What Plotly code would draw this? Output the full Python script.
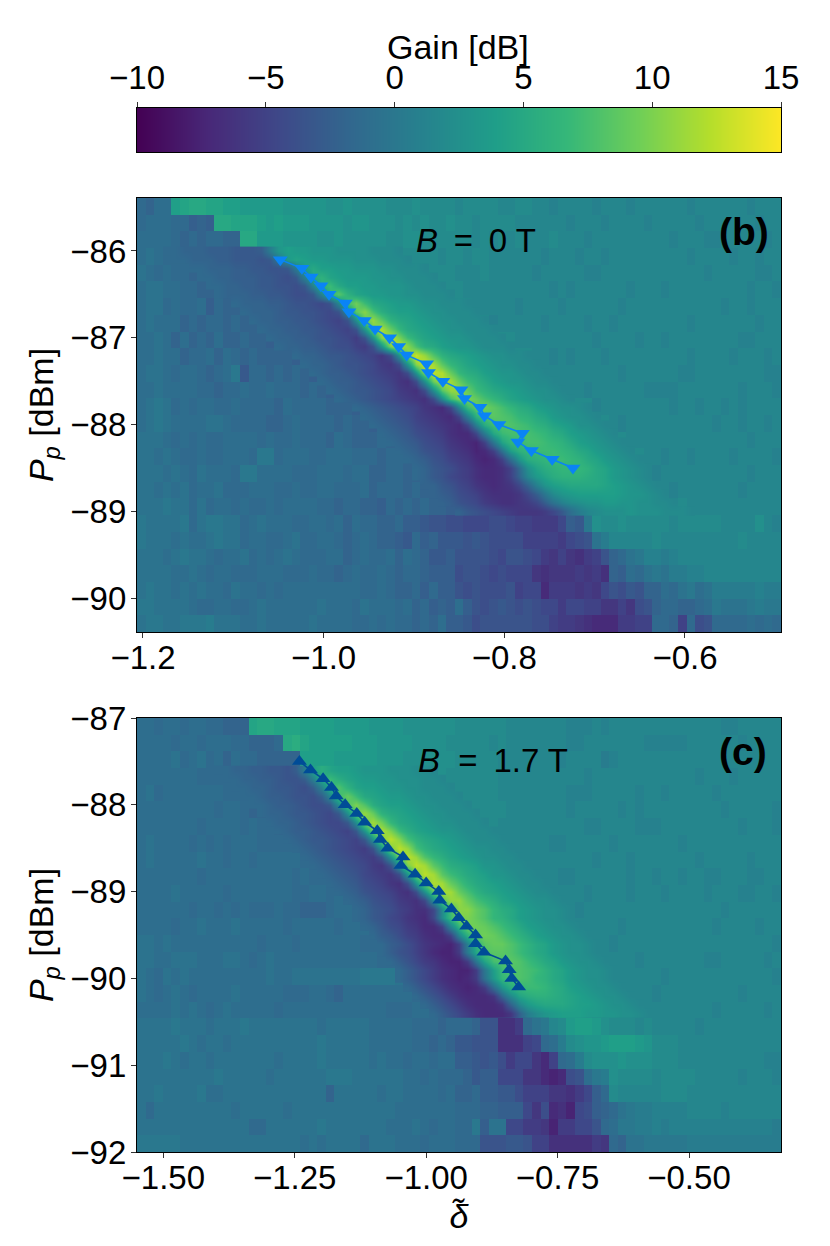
import plotly.graph_objects as go

# all gain grids are in half-dB steps
coarse_b = [
    [-3,-4,-2,-2,8,9,10,10,9,9,8,8,7,7,7, 7,7,6,6,6,6,6,5,5,6,5,5,5,5,4, 4,4,5,4,4,4,4,3,4,4,4,4,3,3,4, 4,3,3,2,3,3,3,3,2,3,3,3,2,3,3, 3,3,3,3,2,3,3,3,3,3,3,2,3,3,3],
    [-3,-2,-2,-2,-3,-3,-5,-4,-5,10,10,9,9,9,8, 7,8,7,7,7,6,6,6,6,5,6,6,5,5,5, 4,5,4,5,4,4,5,4,4,3,4,4,4,4,3, 3,3,3,3,3,2,3,3,3,2,3,3,3,3,2, 3,3,3,3,3,2,3,3,3,3,3,3,2,3,3],
    [-2,-2,-2,-2,-3,-4,-3,-4,-3,-3,-4,-4,10,10,7, 7,7,6,6,6,6,5,5,6,5,5,5,5,5,4, 4,5,5,4,4,4,4,4,4,3,4,3,4,3,4, 3,3,3,4,3,3,3,2,3,3,3,3,3,3,3, 3,3,2,3,3,3,2,2,3,3,3,3,3,2,3],
    [-2,-1,-2,-3,-3,-3,-3,-4,-5,-5,-5,-5,-5,-5,6, 6,6,6,5,6,5,5,5,5,5,5,4,4,4,4, 4,4,4,4,4,3,4,4,3,4,4,3,3,3,3, 3,3,2,3,3,3,2,3,3,2,3,3,3,3,3, 3,3,3,3,2,3,3,3,3,2,3,3,2,3,3],
    [-1,-2,-3,-2,-3,-3,-4,-4,-4,-4,-4,-5,-5,-5,-5, -5,-5,-5,6,6,6,5,5,5,5,5,4,4,4,4, 4,4,4,4,4,4,4,3,3,3,4,3,3,3,3, 3,2,3,3,3,3,3,2,2,3,3,3,3,3,3, 3,3,3,3,3,3,2,3,3,3,3,3,2,2,3],
    [-2,-1,-1,-2,-2,-3,-3,-4,-4,-5,-4,-5,-5,-5,-5, -5,-5,-5,-5,-5,-5,5,6,6,5,5,5,5,4,4, 4,4,4,4,4,4,4,4,3,3,3,3,3,3,3, 3,3,3,2,3,2,3,3,3,3,3,3,2,3,3, 3,2,3,3,3,3,3,3,3,3,3,2,3,3,2],
    [-2,-1,-1,-3,-2,-3,-3,-2,-5,-3,-4,-4,-5,-5,-5, -5,-5,-5,-5,-5,-5,-5,6,7,6,6,5,5,5,4, 4,4,4,4,4,4,4,4,4,3,3,3,3,3,2, 3,3,3,3,2,3,3,3,3,3,3,2,3,3,3, 3,3,3,3,3,3,3,3,2,3,3,2,3,3,3],
    [-2,-1,-2,-2,-2,-4,-3,-4,-3,-3,-4,-3,-4,-4,-5, -5,-5,-5,-5,-5,-5,-5,-5,-5,6,6,6,6,6,6, 5,5,4,4,4,4,4,4,4,4,4,2,3,3,3, 3,3,2,3,3,3,3,2,3,3,2,3,3,3,3, 3,3,3,3,2,3,3,3,3,3,3,3,2,3,3],
    [-2,-2,-1,-2,-4,-2,-4,-3,-4,-2,-4,-4,-3,-4,-4, -5,-5,-5,-5,-5,-5,-5,-5,-5,-5,-5,6,6,6,6, 6,6,5,4,4,4,4,4,4,4,4,4,4,4,3, 3,3,3,3,3,3,3,3,2,3,3,3,3,2,3, 3,2,3,3,3,3,3,3,3,3,2,2,3,3,3],
    [-2,-2,-1,-2,-2,-4,-3,-3,-2,-4,-2,-3,-4,-3,-4, -4,-4,-4,-5,-5,-5,-5,-5,-5,-5,-5,-5,-5,6,6, 6,6,6,5,5,4,4,4,4,4,4,4,4,4,4, 4,3,3,2,3,2,3,3,3,2,3,3,3,3,3, 3,3,3,3,2,3,3,3,3,2,3,3,3,2,3],
    [-2,-1,-1,-2,-3,-2,-2,-3,-4,-3,-2,0,-6,-3,-3, -4,-3,-4,-3,-4,-5,-5,-5,-5,-5,-5,-5,-5,-5,-5, -5,6,6,6,6,6,5,4,4,4,4,4,4,4,4, 4,4,3,3,3,3,3,3,3,3,3,2,3,3,3, 3,3,3,2,2,3,3,3,3,3,3,3,3,2,2],
    [-2,-2,-1,-2,-2,-2,-2,-3,-3,-4,-3,-3,-2,-3,-3, -2,-3,-3,-3,-4,-3,-4,-5,-5,-5,-5,-5,-5,-5,-5, -5,-5,-5,-5,6,6,6,6,6,5,4,4,4,4,4, 4,4,4,4,3,3,3,2,3,3,3,3,3,3,2, 2,2,2,3,3,3,3,3,3,3,2,3,3,3,2],
    [-2,-1,0,-1,-3,-2,-3,-2,-2,-3,-3,-2,-3,-3,-3, -3,-4,-2,-3,-3,-3,-3,-4,-4,-4,-5,-5,-5,-5,-5, -5,-5,-5,-5,-5,-5,-5,6,6,6,6,6,5,4,4, 4,4,4,4,4,4,4,4,2,3,3,3,3,3,3, 3,3,2,3,3,2,3,3,2,3,2,3,3,3,3],
    [-2,-1,0,-1,-2,-2,-2,-2,-1,-1,-2,-3,-3,-3,-3, -4,-4,-3,-2,-3,-3,-3,-3,-4,-3,-4,-4,-5,-5,-5, -5,-5,-5,-5,-5,-5,-5,-5,-5,6,6,6,6,6,5, 4,4,4,4,4,4,4,4,4,4,3,2,3,3,3, 3,3,3,3,3,3,3,2,3,3,2,3,3,2,3],
    [-1,-1,-1,-2,-3,-2,-3,-2,-3,-3,-2,-2,-2,-2,-3, -2,-3,-3,-2,-3,-3,-3,-4,-2,-3,-4,-4,-4,-3,-4, -4,-5,-5,-5,-5,-5,-5,-5,-5,-5,-5,-5,6,6,6, 6,6,5,4,4,4,4,4,4,4,4,4,3,3,3, 3,3,3,3,3,3,3,3,3,3,3,2,3,3,3],
    [-1,-1,-2,-1,-2,-3,-3,-2,-3,-3,-2,-2,-2,-3,0, 0,-3,-2,-2,-2,-3,-3,-2,-2,-2,-3,-3,-3,-4,-3, -3,-4,-5,-5,-5,-5,-5,-5,-5,-5,-5,-5,-5,6,6, 6,6,6,6,5,4,4,4,4,4,4,4,4,4,3, 3,2,3,3,2,3,3,3,3,2,3,3,3,3,2],
    [-1,-1,-1,-2,-1,-2,-3,-1,-2,-2,-2,-3,0,0,-2, -2,-2,-2,-3,-3,-3,-2,-2,-2,-3,-2,-2,-4,-4,-3, -3,-4,-4,-5,-5,-5,-5,-5,-5,-5,-5,-5,-5,-5,-5, 6,6,6,6,6,5,4,4,4,4,4,4,4,4,4, 2,3,3,3,3,3,3,3,3,3,3,2,3,3,3],
    [-1,-1,-2,-1,-2,-1,-3,-2,-2,-1,-3,-3,-3,-2,-2, -2,-3,-3,-2,-3,-3,-2,-2,-3,-3,-3,-2,-4,-3,-3, -3,-4,-3,-4,-5,-5,-5,-5,-5,-5,-5,-5,-5,-5,-5, -5,-5,4,6,6,6,5,4,4,4,4,4,4,4,4, 3,3,2,3,3,3,3,3,3,3,2,3,3,3,3],
    [-1,-1,-1,0,-1,-1,-3,-1,-3,-2,-2,-3,-2,-3,-3, -2,-3,-2,-2,-2,-2,-3,-3,-4,-3,-3,-4,-4,-5,-3, -4,-3,-4,-3,-4,-4,-5,-5,-5,-5,-5,-5,-5,-5,-5, -5,-5,-5,-5,-5,-2,3,5,5,5,4,4,4,4,4, 4,4,3,4,3,3,3,3,3,3,3,3,3,3,3],
    [0,-1,-1,-1,-1,0,-3,-1,0,0,-1,-1,-3,-2,-1, -2,-2,-2,-3,-3,-2,-2,-3,-2,-4,-2,-3,-3,-4,-4, -3,-5,-5,-6,-7,-7,-8,-8,-9,-9,-9,-8,-8,-9,-10, -10,-11,-11,-11,-9,-5,-6,0,5,4,4,5,4,4,4, 4,4,3,4,4,4,4,4,3,3,3,3,5,3,2],
    [0,-1,-1,-1,-2,-1,-2,-2,-1,0,-1,-1,-3,-2,-2, -3,-3,-2,-1,-3,-3,-2,-2,-3,-4,-3,-2,-3,-4,-4, -5,-6,-3,-5,-4,-6,-6,-6,-7,-6,-7,-8,-8,-8,-8, -10,-10,-10,-10,-11,-9,-8,-7,-1,1,3,3,3,3,3, 4,3,3,3,3,3,3,3,3,3,4,3,3,3,3],
    [-1,-1,-1,-2,-1,0,-1,-1,-2,-3,-2,-2,-1,-3,-2, -3,-2,-1,-2,-3,-3,-3,-2,-2,-4,-3,-2,-3,-3,-2, -4,-2,-3,-4,-6,-6,-5,-7,-7,-7,-7,-8,-9,-7,-7, -8,-9,-11,-12,-10,-12,-13,-11,-10,-7,-4,-3,-1,0,2, 2,1,2,3,3,3,3,3,3,3,3,3,3,3,3],
    [-1,-1,-1,-1,-2,-2,-1,-2,-3,-2,-2,-3,-3,-3,-2, -2,-2,-3,-3,-3,-2,-3,-3,-4,-3,-2,-3,-3,-2,-3, -4,-3,-3,-4,-5,-5,-5,-8,-7,-7,-8,-9,-8,-9,-9, -9,-12,-13,-12,-12,-12,-11,-12,-11,-13,-4,-5,-2,-3,-1, 0,-1,1,1,2,2,3,3,3,3,3,3,3,3,3],
    [-1,0,-1,-1,-2,-1,-2,-1,-2,-2,-3,-1,-2,-2,-3, -2,-3,-2,-2,-2,-2,-2,-2,-2,-2,-2,-3,-3,-2,-3, -4,-4,-3,-5,-3,-5,-5,-7,-8,-7,-8,-8,-8,-7,-10, -9,-9,-14,-11,-11,-11,-12,-11,-12,-9,-7,-8,-6,-7,-4, -4,-2,-3,-1,0,-2,-1,1,1,1,1,1,2,1,1],
    [0,0,-1,-1,-1,-1,-2,-3,-3,-2,-2,-3,-3,-2,-1, -2,-2,-2,-2,-2,-2,-1,-2,-2,-2,-3,-1,-2,-2,-2, -3,-2,-4,-3,-5,-4,-5,-2,-5,-7,-8,-7,-6,-7,-8, -7,-8,-9,-9,-11,-9,-9,-10,-10,-12,-12,-10,-12,-8,-7, -4,-3,-3,-4,-4,-3,-2,0,-1,-1,-1,0,1,0,0],
    [-1,0,0,-1,-1,0,0,0,1,-1,-1,-1,-2,-2,-1, -2,-2,-2,-2,-2,-1,-2,-2,-2,-2,-3,-3,-2,-3,-2, -3,-3,-4,-3,-4,-2,-5,-5,-6,-8,-7,-7,-7,-7,-7, -7,-8,-8,-10,-11,-11,-12,-13,-14,-14,-14,-11,-11,-10,-10, -3,-3,-4,-10,-3,-8,-7,-3,-3,-3,-3,-2,-3,-2,-3],
]

fine_start_b = [3,4,6,7,8,9,11,12,13,14,15,16,18,19,20,21,22,23,25,26,27,28,29,30,31,32,32,33,34,35,37]
fine_b = [
    [-3,-3,-4,-4,-4,-5,-5,-5,-6,-6,-6,-5,1,6,8,7,7,6,6,6,5,5,5,5,4,4,4,3],
    [-3,-3,-4,-4,-4,-5,-5,-6,-6,-6,-7,-6,0,7,9,8,7,7,6,6,6,5,5,5,4,4,4,3],
    [-3,-3,-4,-4,-4,-5,-5,-6,-6,-7,-7,-6,1,8,10,8,8,7,7,6,6,6,5,5,4,4,4,3],
    [-3,-3,-4,-4,-5,-5,-5,-6,-6,-7,-8,-6,2,10,12,9,8,7,7,7,6,6,5,5,4,4,4,3],
    [-3,-3,-4,-4,-5,-5,-6,-6,-7,-7,-8,-6,3,12,14,10,8,8,7,7,6,6,6,5,4,4,4,3],
    [-3,-4,-4,-4,-5,-5,-6,-6,-7,-8,-8,-6,3,13,17,12,9,8,7,7,6,6,5,5,4,4,4,3],
    [-3,-4,-4,-4,-5,-5,-6,-7,-7,-8,-9,-7,3,15,19,14,10,9,8,7,7,6,5,5,4,4,4,3],
    [-3,-4,-4,-4,-5,-6,-6,-7,-7,-8,-9,-7,4,17,21,15,11,9,8,8,7,6,5,5,4,4,4,3],
    [-3,-4,-4,-5,-5,-6,-6,-7,-8,-9,-10,-7,5,18,22,17,12,10,9,8,7,6,5,5,4,4,4,3],
    [-3,-4,-4,-5,-5,-6,-6,-7,-8,-9,-10,-7,6,20,24,18,13,10,9,8,7,6,5,5,4,4,4,3],
    [-3,-4,-4,-5,-5,-6,-7,-7,-8,-9,-11,-7,6,21,25,20,14,11,9,8,7,6,6,5,4,4,4,3],
    [-3,-4,-4,-5,-5,-6,-7,-8,-8,-10,-11,-7,6,21,25,21,15,11,10,8,7,6,6,5,4,4,4,3],
    [-3,-4,-4,-5,-6,-6,-7,-8,-9,-10,-12,-8,6,21,26,22,16,12,10,9,8,7,6,5,5,4,4,3],
    [-3,-4,-4,-5,-6,-7,-7,-8,-9,-11,-12,-8,6,21,26,23,17,13,11,9,8,7,6,5,5,4,4,3],
    [-3,-4,-5,-5,-6,-7,-8,-9,-10,-11,-12,-8,6,21,25,24,18,13,11,10,8,7,6,6,5,4,4,3],
    [-3,-4,-5,-5,-6,-7,-8,-9,-10,-12,-13,-8,5,19,24,23,18,14,12,10,8,7,6,6,5,4,4,3],
    [-3,-4,-5,-6,-6,-7,-8,-9,-11,-12,-13,-8,5,17,22,22,18,14,12,10,9,8,7,6,5,5,4,3],
    [-3,-4,-5,-6,-7,-8,-9,-10,-11,-12,-13,-8,4,15,20,20,18,15,13,11,9,8,7,6,5,5,4,3],
    [-3,-4,-5,-6,-7,-8,-9,-10,-12,-13,-14,-9,3,14,18,19,17,15,13,11,10,8,7,6,5,5,4,3],
    [-3,-4,-5,-6,-7,-8,-10,-11,-12,-13,-14,-9,2,12,16,17,16,15,13,12,10,9,7,6,5,5,4,3],
    [-3,-4,-5,-6,-7,-9,-10,-11,-12,-13,-14,-9,2,11,15,16,16,15,14,12,11,9,8,7,5,5,4,3],
    [-3,-4,-5,-6,-8,-9,-10,-11,-13,-14,-14,-9,1,10,14,15,15,15,14,13,11,10,8,7,6,5,4,3],
    [-3,-4,-5,-6,-8,-9,-10,-12,-13,-14,-15,-10,0,9,13,14,15,15,14,13,12,10,8,7,6,5,4,3],
    [-3,-4,-5,-7,-8,-9,-11,-12,-13,-15,-14,-10,-1,8,12,13,14,14,14,13,12,10,9,7,6,5,4,3],
    [-3,-4,-5,-7,-8,-10,-11,-12,-14,-15,-14,-10,-2,6,11,12,13,14,14,13,12,10,9,7,6,5,4,3],
    [-3,-4,-6,-7,-8,-10,-11,-13,-14,-14,-13,-10,-3,5,9,11,12,13,13,13,12,10,9,7,6,5,4,3],
    [-3,-4,-6,-7,-9,-10,-11,-13,-14,-14,-13,-10,-4,3,7,9,11,12,12,12,11,10,9,7,6,5,4,3],
    [-4,-4,-6,-7,-9,-10,-12,-13,-14,-13,-12,-9,-4,2,6,8,9,10,10,10,10,9,8,7,6,5,4,3],
    [-4,-5,-6,-8,-9,-10,-12,-13,-13,-13,-12,-9,-5,0,4,6,7,8,8,8,8,8,7,6,6,5,4,3],
    [-4,-5,-7,-8,-9,-11,-12,-13,-13,-12,-11,-9,-5,-1,2,4,5,6,6,7,7,6,6,5,5,4,4,3],
    [-4,-6,-7,-8,-9,-10,-11,-12,-12,-12,-11,-9,-6,-2,1,3,4,5,5,5,6,5,5,5,4,4,4,3],
]

coarse_c = [
    [-2,-2,-3,-2,-2,-3,-2,-2,-3,-3,-4,-4,-4,9,10,10,9,9,9,8,8,8,8,7,7,7,7,6,6,6, 6,5,5,5,5,5,5,4,4,4,4,4,4,3,3, 3,3,3,3,3,2,2,2,3,2,3,3,3,3,3, 3,3,3,3,3,3,3,3,2,2,3,3,3,3,3],
    [-2,-2,-2,-2,-3,-2,-2,-3,-2,-2,-2,-3,-3,-4,-4,-4,-3,10,11,9,8,8,8,8,8,7,7,7,6,6, 6,6,5,5,5,5,4,4,4,4,4,3,4,3,3, 3,3,3,3,3,2,2,3,3,3,3,3,3,3,2, 2,2,2,2,3,3,3,3,3,3,2,3,3,3,3],
    [-2,-2,-2,-2,-1,-3,-2,-1,-3,-2,-4,-2,-3,-3,-4,-4,-4,-4,-4,8,8,8,8,7,7,7,7,7,6,6, 6,5,5,5,5,5,5,4,4,4,4,4,3,3,3, 3,3,3,3,2,3,3,3,3,1,2,3,3,3,3, 3,3,3,3,3,3,3,3,3,3,3,3,3,3,3],
    [-2,-2,-2,-2,-2,-2,-2,-3,-3,-3,-3,-4,-4,-4,-5,-5,-5,-5,-5,-5,-5,-5,7,7,7,7,7,7,6,6, 6,6,5,5,5,5,4,4,4,4,4,4,3,3,3, 3,3,3,3,3,3,3,2,3,3,3,3,3,3,3, 3,3,3,3,3,2,3,3,3,2,3,3,3,3,3],
    [-2,-1,-3,-2,-2,-2,-2,-2,-2,-2,-3,-3,-3,-4,-5,-5,-5,-5,-5,-5,-5,-5,-5,-5,-5,7,7,7,6,6, 6,6,5,5,5,5,4,4,4,4,4,4,3,3,3, 3,3,3,3,3,2,2,2,3,3,3,3,3,2,3, 3,2,3,3,3,3,3,2,3,3,3,3,3,3,3],
    [-2,-2,-2,-2,-2,-2,-2,-2,-2,-3,-2,-2,-3,-4,-5,-5,-5,-5,-5,-5,-5,-5,-5,-5,-5,-5,-5,6,6,6, 6,6,6,5,5,5,4,4,4,4,4,4,4,3,3, 3,3,3,3,3,2,3,3,3,3,3,2,3,2,3, 3,3,3,3,3,3,3,3,2,3,3,3,3,3,2],
    [-2,-2,-2,-2,-2,-2,-2,-3,-2,-2,-2,-2,-3,-2,-3,-3,-5,-5,-5,-5,-5,-5,-5,-5,-5,-5,-5,-5,-5,6, 6,6,6,6,6,5,5,4,4,4,4,4,3,3,3, 3,3,3,3,3,3,3,2,2,3,3,3,3,2,2, 2,3,3,3,3,3,3,3,3,3,2,3,3,3,2],
    [-2,-1,-2,-2,-2,-2,-3,-2,-3,-2,-3,-2,-2,-2,-3,-3,-3,-3,-4,-5,-5,-5,-5,-5,-5,-5,-5,-5,-5,-5, -5,-5,6,6,6,6,6,5,5,4,4,4,4,3,3, 3,3,3,2,2,3,3,3,3,3,2,3,3,3,3, 3,3,3,2,3,3,3,3,3,3,3,3,3,3,3],
    [-2,-1,-2,-2,-2,-2,-2,-1,-2,-2,-3,-2,-2,-3,-2,-2,-2,-2,-2,-3,-3,-4,-5,-5,-5,-5,-5,-5,-5,-5, -5,-5,-5,-5,6,6,6,6,6,5,5,4,4,3,3, 3,3,3,3,3,3,3,3,2,3,3,3,2,3,3, 3,3,3,3,3,2,3,3,3,3,3,2,3,3,3],
    [-2,-2,-2,-2,-2,-2,-2,-3,-2,-2,-2,-2,-2,-2,-2,-2,-2,-2,-3,-2,-3,-3,-3,-5,-5,-5,-5,-5,-5,-5, -5,-5,-5,-5,-5,-5,6,6,6,6,6,5,5,4,4, 4,3,3,3,2,2,3,3,3,3,3,3,2,3,3, 2,3,3,2,3,3,2,2,3,3,3,2,2,3,3],
    [-2,-2,-2,-2,-1,-2,-2,-2,-2,-2,-3,-2,-2,-2,-2,-2,-2,-2,-3,-3,-2,-2,-3,-2,-3,-4,-5,-5,-5,-5, -5,-5,-5,-5,-5,-5,-5,-5,6,6,6,6,6,5,5, 4,4,3,3,3,3,3,2,3,3,3,3,2,3,3, 3,2,3,3,3,3,2,3,3,3,2,2,3,3,2],
    [-2,-2,-2,-2,-2,-2,-3,-2,-2,-3,-2,-3,-2,-3,-3,-3,-2,-3,-3,-4,-4,-4,-3,-2,-2,-3,-3,-4,-5,-5, -5,-5,-5,-5,-5,-5,-5,-5,-5,-5,6,6,6,6,5, 5,4,4,3,3,3,2,3,3,3,3,3,3,3,3, 3,3,3,3,3,3,3,3,2,3,3,3,3,3,3],
    [-2,-2,-2,-2,-3,-2,-2,-1,-2,-2,-2,-1,-2,-2,-2,-2,-2,-3,-2,-2,-2,-2,-2,-3,-2,-2,-2,-3,-4,-4, -5,-5,-5,-5,-5,-5,-5,-5,-5,-5,-5,6,6,6,6, 6,5,5,4,3,3,3,3,3,3,3,2,3,3,3, 3,3,3,3,3,3,3,2,3,3,3,3,2,3,3],
    [-1,-1,-2,-1,-2,-2,-2,-2,-2,-2,-2,-2,-2,-2,-3,-2,-2,-2,-3,-2,-2,-2,-2,-2,-2,-2,-3,-3,-3,-4, -4,-4,-5,-5,-5,-5,-5,-5,-5,-5,-5,-5,6,6,6, 6,6,6,5,4,3,3,3,3,3,2,3,3,3,3, 3,3,3,3,3,3,3,3,3,3,3,3,3,3,2],
    [-1,-1,-2,-2,-1,-1,-1,-2,-2,-2,-1,-1,-2,-3,-2,-1,-2,-2,-2,-2,-2,-2,-2,-2,-2,-2,-2,-2,-3,-3, -3,-4,-4,-5,-5,-5,-5,-5,-5,-5,-5,-5,-5,-5,6, 6,6,6,6,5,4,3,3,3,3,3,3,3,2,3, 3,3,3,3,3,3,2,2,3,3,3,3,3,2,3],
    [-1,-2,-3,-1,-2,-1,-2,-2,-2,-2,-2,-2,-2,-2,-2,-1,-2,-2,-1,-1,-1,-1,-1,-1,-1,-1,0,0,0,0, -1,-1,-2,-3,-4,-5,-5,-5,-5,-5,-5,-5,-5,-5,-5, -5,6,6,6,6,5,4,3,3,3,3,3,3,3,3, 3,2,3,3,3,3,3,3,3,3,3,3,3,3,2],
    [-1,-2,-3,-2,-1,-2,-3,-2,-2,-2,-2,-1,-2,-2,-2,-2,-2,-3,-3,-3,-2,-2,-3,-4,-2,-2,-2,-2,-2,-2, -2,-2,-3,-2,-3,-3,-4,-5,-5,-5,-5,-5,-5,-5,-5, -5,-5,6,6,6,6,5,4,3,3,3,3,3,3,3, 2,3,3,3,3,3,3,3,3,3,2,3,3,3,3],
    [-2,-2,-2,-2,-1,-2,-1,-2,-3,-2,-1,-2,-2,-2,-2,-2,-3,-2,-2,-2,-2,-2,-2,-2,-2,-2,-2,-2,-2,-3, -3,-3,-2,-2,-2,-2,-2,-3,-3,-4,-5,-5,-5,-5,-5, -5,-5,-5,5,6,6,5,4,3,3,3,3,3,3,3, 3,3,3,3,3,3,3,2,3,3,3,3,3,2,3],
    [-1,-1,-1,-1,0,-1,-1,-1,-2,-1,-1,-1,0,-1,-1,-1,-1,-1,-1,-1,-1,-2,-1,-1,-1,-1,-1,-2,-2,-2, -2,-2,-3,-3,-3,-4,-3,-3,-3,-4,-7,-7,-13,-13,-11, -3,-1,0,3,4,7,8,8,7,5,4,4,4,3,4, 3,3,3,3,3,2,3,3,3,3,3,3,3,3,3],
    [-1,-1,-1,-1,-1,0,-1,-2,-1,-1,-2,-1,-1,-1,-1,-1,-1,-1,-1,-1,-1,0,-1,-1,-1,-1,-1,-2,-2,-2, -2,-2,-3,-3,-4,-3,-4,-6,-6,-7,-7,-7,-13,-13,-13, -10,-9,-3,-2,1,4,5,6,6,7,8,8,8,7,6, 4,4,4,3,3,3,3,3,3,3,3,3,3,3,3],
    [-1,-1,-1,0,-1,-2,-1,-1,-2,-1,-1,-1,-1,-1,-1,-1,-2,-1,-1,-1,-1,0,-1,-1,-1,-1,-1,-2,-1,-2, -2,-3,-2,-2,-3,-2,-2,-5,-5,-6,-7,-6,-8,-11,-9, -9,-12,-14,-10,-3,-2,1,4,5,5,5,6,5,5,5, 4,4,4,3,3,3,3,3,3,3,3,3,3,2,2],
    [-1,-1,-1,-1,-1,-1,-1,-1,-1,0,-1,-1,-1,-1,-1,-2,-1,-1,-1,-1,-1,-1,0,0,0,-1,-1,-1,-1,-1, -1,-2,-2,-3,-2,-3,-3,-3,-4,-6,-5,-5,-9,-9,-9, -12,-12,-14,-15,-14,-8,-7,-2,0,1,5,4,4,4,4, 3,4,4,4,4,3,3,3,3,3,2,3,3,3,2],
    [-1,-1,0,-1,-1,-1,-1,0,-2,-2,-1,-1,-1,-1,-1,-1,-1,-1,-1,-1,-1,-1,-4,-1,-1,-1,-1,-1,-2,-1, -1,-2,-2,-2,-2,-3,-2,-4,-4,-3,-5,-5,-6,-6,-8, -10,-10,-10,-12,-12,-13,-11,-9,-5,-3,4,3,3,3,3, 3,4,4,4,3,3,3,3,3,3,3,3,3,3,3],
    [-1,-3,-1,-1,-1,-1,-1,-1,-1,-1,-1,-2,-1,-1,-1,-1,-1,-2,-1,-1,-1,-1,-1,-1,-1,-1,-1,-1,-1,-1, -2,-2,-2,-2,-2,-2,-2,-3,-3,-3,-4,-4,-5,-5,-5, -9,-12,-8,-14,-13,-15,-9,-8,-5,-4,-3,-1,0,1,1, 2,2,2,2,3,3,3,3,2,3,3,3,3,3,3],
    [-1,-1,-1,-1,-1,-1,-1,-1,-1,-1,-1,-1,-1,-3,-3,-1,-1,-1,-1,-1,-1,0,-1,-1,-1,-1,-1,-1,-1,-2, -2,-2,-1,-2,-3,-2,-2,-3,-3,0,-5,-1,-1,-9,-9, -11,-11,-12,-15,-11,-11,-9,-9,-7,-3,-2,0,0,1,1, 2,1,2,2,2,2,2,2,2,2,2,2,2,2,1],
    [0,0,0,0,0,-1,-1,-1,-1,-1,-1,-1,-1,-1,-1,-1,-1,-1,-1,-2,-1,-2,-1,-1,-1,-1,-3,-1,-1,-1, -2,-2,-2,-3,-2,-2,-2,-3,-3,-3,-7,-7,-7,-6,-6, -7,-10,-10,-13,-13,-13,-13,-13,-11,-12,-3,-4,-1,-1,0, 0,0,0,0,1,1,1,1,1,1,1,1,1,1,1],
]

fine_start_c = [9,10,11,12,13,14,15,16,17,18,19,20,21,22,23,24,25,25,26,27,28,28,29,30,30,31,32,33,34]
fine_c = [
    [-3,-3,-4,-4,-5,-5,-6,-6,-7,-5,1,8,11,9,8,8,7,6,6,6,5,5,5,4,4,3],
    [-3,-3,-4,-4,-5,-5,-6,-7,-7,-5,2,10,14,11,9,8,7,7,6,6,5,5,5,4,4,3],
    [-3,-3,-4,-4,-5,-6,-6,-7,-8,-5,2,12,16,12,9,8,8,7,6,6,5,5,4,4,4,3],
    [-3,-3,-4,-5,-5,-6,-7,-7,-8,-5,3,14,18,14,10,9,8,7,7,6,5,5,4,4,4,3],
    [-3,-3,-4,-5,-5,-6,-7,-8,-8,-6,4,16,20,16,11,9,8,8,7,6,5,5,4,4,4,3],
    [-3,-4,-4,-5,-6,-6,-7,-8,-9,-6,5,18,22,18,12,10,9,8,7,6,5,5,4,4,4,3],
    [-3,-4,-4,-5,-6,-7,-8,-9,-9,-6,5,19,23,19,13,10,9,8,7,6,5,5,4,4,4,3],
    [-3,-4,-5,-5,-6,-7,-8,-9,-10,-6,6,20,24,20,14,11,9,8,7,6,6,5,4,4,4,3],
    [-3,-4,-5,-6,-6,-7,-8,-9,-10,-6,6,20,25,21,15,12,10,9,8,7,6,5,4,4,4,3],
    [-3,-4,-5,-6,-7,-8,-9,-10,-11,-7,6,20,25,22,15,12,10,9,8,7,6,5,5,4,4,3],
    [-3,-4,-5,-6,-7,-8,-9,-10,-11,-7,6,20,25,22,16,13,11,9,8,7,6,5,5,4,4,3],
    [-3,-4,-5,-6,-7,-8,-9,-11,-12,-7,6,20,25,23,17,14,11,10,9,8,6,6,5,4,4,3],
    [-3,-4,-5,-6,-7,-9,-10,-11,-12,-8,6,19,25,23,17,14,12,10,9,8,6,6,5,4,4,3],
    [-3,-4,-5,-6,-8,-9,-10,-12,-13,-8,6,18,24,23,18,15,12,10,9,8,7,6,5,4,4,3],
    [-3,-4,-5,-7,-8,-9,-10,-12,-13,-8,5,18,23,23,18,15,12,10,9,8,7,6,5,4,4,3],
    [-3,-4,-5,-7,-8,-9,-11,-12,-13,-9,5,17,22,22,18,15,13,11,9,8,7,6,5,5,4,3],
    [-3,-4,-6,-7,-8,-10,-11,-13,-13,-9,4,15,21,21,18,16,13,11,10,8,7,6,5,5,4,3],
    [-3,-4,-6,-7,-9,-10,-12,-13,-14,-9,4,14,20,20,18,16,13,12,10,8,7,6,5,5,4,3],
    [-3,-4,-6,-8,-9,-11,-12,-14,-14,-10,3,13,19,19,18,16,14,12,10,8,7,6,5,5,4,3],
    [-3,-5,-6,-8,-10,-11,-13,-14,-14,-10,3,12,18,19,18,16,14,12,10,8,7,6,5,5,4,3],
    [-3,-5,-6,-8,-10,-12,-13,-14,-15,-10,2,11,17,18,18,16,14,12,10,9,7,6,5,5,4,3],
    [-3,-5,-7,-8,-10,-12,-14,-15,-15,-11,1,10,16,17,17,16,14,12,10,9,7,6,5,5,4,3],
    [-3,-5,-7,-9,-11,-12,-14,-15,-15,-11,0,9,15,16,17,16,14,12,10,9,7,6,5,5,4,3],
    [-3,-5,-7,-9,-11,-13,-14,-15,-15,-11,0,8,14,16,16,15,14,12,10,9,7,6,5,5,4,3],
    [-3,-5,-7,-9,-11,-13,-14,-15,-14,-11,-1,7,13,15,16,15,13,12,10,9,7,6,5,5,4,3],
    [-3,-5,-7,-9,-11,-13,-14,-15,-14,-11,-2,6,11,13,14,14,13,11,10,8,7,6,5,5,4,3],
    [-3,-5,-7,-9,-11,-13,-14,-14,-14,-12,-3,4,9,11,12,12,11,10,9,8,7,6,5,5,4,3],
    [-3,-5,-7,-9,-11,-13,-14,-14,-14,-12,-4,3,7,9,10,10,10,9,8,8,7,6,5,5,4,3],
    [-3,-5,-7,-9,-11,-13,-14,-14,-14,-12,-5,1,4,6,7,8,8,8,7,7,6,6,5,5,4,3],
]

# peak positions traced by the markers
peak_b_x = [-1.048,-1.024,-1.014,-1.003,-0.994,-0.976,-0.972,-0.955,-0.943,-0.927,-0.917,-0.908,-0.886,-0.884,-0.868,-0.848,-0.844,-0.827,-0.822,-0.806,-0.780,-0.785,-0.770,-0.747,-0.724]
peak_b_y = [-86.1,-86.2,-86.3,-86.4,-86.5,-86.6,-86.7,-86.8,-86.9,-87.0,-87.1,-87.2,-87.3,-87.4,-87.5,-87.6,-87.7,-87.8,-87.9,-88.0,-88.1,-88.2,-88.3,-88.4,-88.5]
peak_c_x = [-1.241,-1.220,-1.196,-1.180,-1.171,-1.154,-1.132,-1.117,-1.093,-1.087,-1.073,-1.044,-1.048,-1.021,-1.000,-0.976,-0.974,-0.952,-0.938,-0.923,-0.906,-0.906,-0.890,-0.849,-0.842,-0.837,-0.824]
peak_c_y = [-87.5,-87.6,-87.7,-87.8,-87.9,-88.0,-88.1,-88.2,-88.3,-88.4,-88.5,-88.6,-88.7,-88.8,-88.9,-89.0,-89.1,-89.2,-89.3,-89.4,-89.5,-89.6,-89.7,-89.8,-89.9,-90.0,-90.1]

gain_levels = [-10,-9.5,-9,-8.5,-8,-7.5,-7,-6.5,-6,-5.5,-5,-4.5,-4,-3.5,-3,-2.5,-2,-1.5,-1,-0.5,0,0.5,1,1.5,2,2.5,3,3.5,4,4.5,5,5.5,6,6.5,7,7.5,8,8.5,9,9.5,10,10.5,11,11.5,12,12.5,13,13.5,14,14.5,15]

ticks_x_b = [-1.2, -1.0, -0.8, -0.6]
ticks_y_b = [-86, -87, -88, -89, -90]
ticks_x_c = [-1.5, -1.25, -1.0, -0.75, -0.5]
ticks_y_c = [-87, -88, -89, -90, -91, -92]
ticks_gain = [-10, -5, 0, 5, 10, 15]

W, H = 830, 1246
FONT = "Liberation Sans"
TICK_SIZE = 33
RANGE_B = ([-1.2066, -0.4937], [-90.39, -85.39])
RANGE_C = ([-1.55, -0.325], [-92.0, -87.0])
N_COLS = 75
N_ROWS = 26


def db(rows):
    return [[v / 2 for v in row] for row in rows]


def pad_fine(starts, rows):
    out = []
    for start, row in zip(starts, rows):
        tail = N_COLS - start - len(row)
        out.append([None] * start + [v / 2 for v in row] + [None] * tail)
    return out


def add_panel(fig, coarse, fine, starts, fine_top, rng, xname, yname):
    xr, yr = rng
    dx = (xr[1] - xr[0]) / N_COLS
    dy = (yr[1] - yr[0]) / N_ROWS
    common = dict(colorscale="Viridis", zmin=-10, zmax=15, xaxis=xname, yaxis=yname, showscale=False)
    fig.add_trace(go.Heatmap(z=db(coarse), x0=xr[0] + dx / 2, dx=dx, y0=yr[1] - dy / 2, dy=-dy, **common))
    fig.add_trace(go.Heatmap(
        z=pad_fine(starts, fine), x0=xr[0] + dx / 2, dx=dx, y0=fine_top, dy=-0.1,
        zsmooth="best", **common))


def axis(domain, rng, ticks, fmt, anchor, title=None, standoff=None, **extra):
    ax = dict(
        domain=domain, range=rng, tickvals=ticks, tickformat=fmt, anchor=anchor,
        ticks="outside", ticklen=5, tickwidth=1, tickcolor="#333",
        tickfont=dict(family=FONT, size=TICK_SIZE, color="black"),
        showline=True, mirror=True, linecolor="black", linewidth=1.3,
        showgrid=False, zeroline=False,
    )
    if title:
        ax["title"] = dict(text=title, font=dict(family=FONT, size=34, color="black"), standoff=standoff)
    ax.update(extra)
    return ax


fig = go.Figure()
add_panel(fig, coarse_b, fine_b, fine_start_b, -86.0, RANGE_B, "x", "y")
add_panel(fig, coarse_c, fine_c, fine_start_c, -87.6, RANGE_C, "x2", "y2")

# gain scale drawn as its own axes so its ticks can sit on top
fig.add_trace(go.Heatmap(
    z=[gain_levels, gain_levels], x=gain_levels, y=[0, 1], xaxis="x3", yaxis="y3",
    colorscale="Viridis", zmin=-10, zmax=15, zsmooth="best", showscale=False))

fig.add_trace(go.Scatter(
    x=peak_b_x, y=peak_b_y, xaxis="x", yaxis="y", mode="lines+markers",
    line=dict(color="#0a84f5", width=1.6),
    marker=dict(symbol="triangle-down", size=13, color="#0a84f5"), showlegend=False))
fig.add_trace(go.Scatter(
    x=peak_c_x, y=peak_c_y, xaxis="x2", yaxis="y2", mode="lines+markers",
    line=dict(color="#004c97", width=1.6),
    marker=dict(symbol="triangle-up", size=13, color="#004c97"), showlegend=False))


def note(text, x_px, y_px, size, anchor, bold=False):
    return dict(
        text=f"<b>{text}</b>" if bold else text, xref="paper", yref="paper",
        x=x_px / W, y=1 - y_px / H, xanchor=anchor, yanchor="middle", showarrow=False,
        font=dict(family=FONT, size=size, color="black"))


dom_x = [137 / W, 781 / W]
fig.update_layout(
    width=W, height=H, margin=dict(l=0, r=0, t=0, b=0, autoexpand=False),
    paper_bgcolor="white", plot_bgcolor="#26828e", showlegend=False,
    xaxis=axis(dom_x, RANGE_B[0], ticks_x_b, ".1f", "y", ticklabelstandoff=-9),
    yaxis=axis([1 - 632 / H, 1 - 198 / H], RANGE_B[1], ticks_y_b, "d", "x", "<i>P<sub>p</sub></i> [dBm]", 6, ticklabelstandoff=-2),
    xaxis2=axis(dom_x, RANGE_C[0], ticks_x_c, ".2f", "y2", "<i>δ̃</i>", 9, ticklabelstandoff=-9),
    yaxis2=axis([1 - 1152 / H, 1 - 718 / H], RANGE_C[1], ticks_y_c, "d", "x2", "<i>P<sub>p</sub></i> [dBm]", 6, ticklabelstandoff=-2),
    xaxis3=axis(dom_x, [-10, 15], ticks_gain, "d", "y3", side="top"),
    yaxis3=dict(domain=[1 - 152 / H, 1 - 108 / H], range=[0, 1], anchor="x3", showticklabels=False,
                ticks="", showline=True, mirror=True, linecolor="black", linewidth=1.3,
                showgrid=False, zeroline=False),
    annotations=[
        note("Gain [dB]", 458, 47, 34, "center"),
        note("<i>B</i>\u2009 = \u20090 T", 414, 240, 33, "left"),
        note("(b)", 771, 232, 39, "right", bold=True),
        note("<i>B</i>\u00a0 = \u20091.7 T", 416, 761, 33, "left"),
        note("(c)", 769, 752, 39, "right", bold=True),
    ],
)

fig.write_html("out.html", config={"displayModeBar": False}, post_script="document.body.style.margin='0';")
